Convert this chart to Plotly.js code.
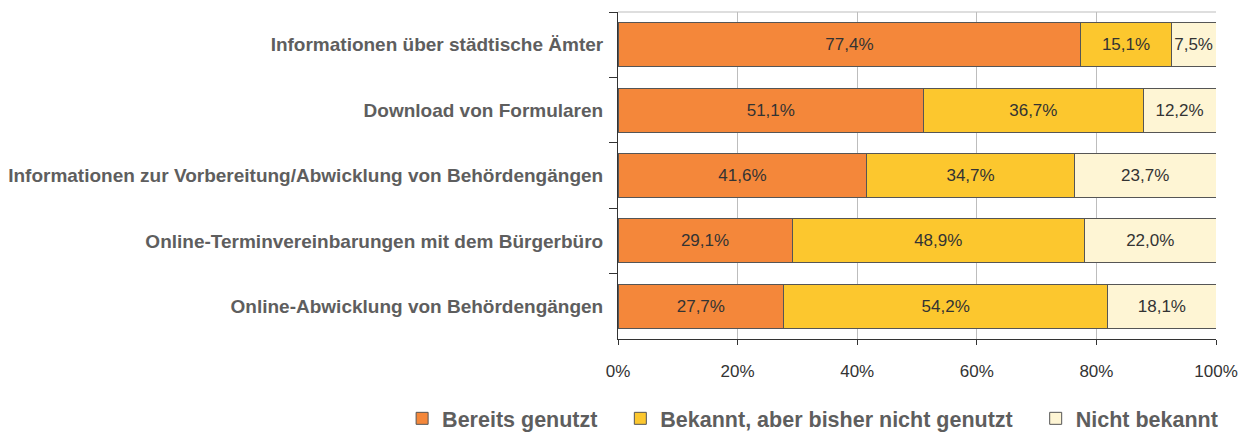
<!DOCTYPE html>
<html><head><meta charset="utf-8">
<script src="https://cdn.plot.ly/plotly-3.0.1.min.js"></script>
<style>html,body{margin:0;padding:0;background:#fff}#chart{width:1246px;height:437px}</style>
</head><body><div id="chart"></div>
<script>
const categories = ["Informationen über städtische Ämter", "Download von Formularen", "Informationen zur Vorbereitung/Abwicklung von Behördengängen", "Online-Terminvereinbarungen mit dem Bürgerbüro", "Online-Abwicklung von Behördengängen"];
const seriesNames = ["Bereits genutzt", "Bekannt, aber bisher nicht genutzt", "Nicht bekannt"];
const genutzt = [77.4, 51.1, 41.6, 29.1, 27.7];
const bekannt = [15.1, 36.7, 34.7, 48.9, 54.2];
const nichtBekannt = [7.5, 12.2, 23.7, 22.0, 18.1];
const xTicks = [0, 20, 40, 60, 80, 100];
const xTickLabels = ["0%", "20%", "40%", "60%", "80%", "100%"];

const colors = ["#F4873A", "#FCC72E", "#FEF5D4"];
const FONT = "Liberation Sans, Arial, sans-serif";
const fmt = v => v.toFixed(1).replace(".", ",") + "%";
const pad = "\u00a0\u00a0\u00a0";
const vals = [genutzt, bekannt, nichtBekannt];
const traces = vals.map((v, i) => ({
  type: "bar", orientation: "h", name: seriesNames[i] + (i < 2 ? pad : ""),
  y: categories, x: v,
  marker: {color: colors[i], line: {color: "#555", width: 1}},
  width: 0.67,
  text: v.map(fmt), textposition: "inside", insidetextanchor: "middle",
  textfont: {family: FONT, size: 17, color: "#333"},
  constraintext: "none",
  hoverinfo: "skip"
}));

const layout = {
  width: 1246, height: 437,
  margin: {l: 618, r: 30, t: 12, b: 98, autoexpand: false},
  barmode: "stack", separators: ",.",
  paper_bgcolor: "#fff", plot_bgcolor: "#fff",
  showlegend: true,
  legend: {orientation: "h", x: -0.361, xanchor: "left", y: -0.18, yanchor: "top",
    font: {family: FONT, size: 21.5, color: "#5E5E5E", weight: "bold"}, traceorder: "normal"},
  xaxis: {range: [0, 100], tickmode: "array", tickvals: xTicks, ticktext: xTickLabels, showgrid: true, gridcolor: "#bdbdbd", gridwidth: 1,
    zeroline: false, showline: true, linecolor: "#333", linewidth: 1, ticks: "outside", ticklen: 5, tickcolor: "#333",
    ticklabelstandoff: 12,
    tickfont: {family: FONT, size: 17, color: "#333"}, fixedrange: true},
  yaxis: {autorange: "reversed", type: "category", showline: true, linecolor: "#333", linewidth: 1,
    ticks: "outside", tickson: "boundaries", ticklen: 8, tickcolor: "#333", showgrid: false, automargin: false,
    tickfont: {family: FONT, size: 19, color: "#5E5E5E", weight: "bold"}, ticklabelstandoff: 10, fixedrange: true},
  shapes: [{type: "line", xref: "paper", yref: "paper", x0: 0, x1: 1, y0: 1, y1: 1, line: {color: "#bdbdbd", width: 1}}]
};
Plotly.newPlot("chart", traces, layout, {displayModeBar: false, staticPlot: true});
</script></body></html>
